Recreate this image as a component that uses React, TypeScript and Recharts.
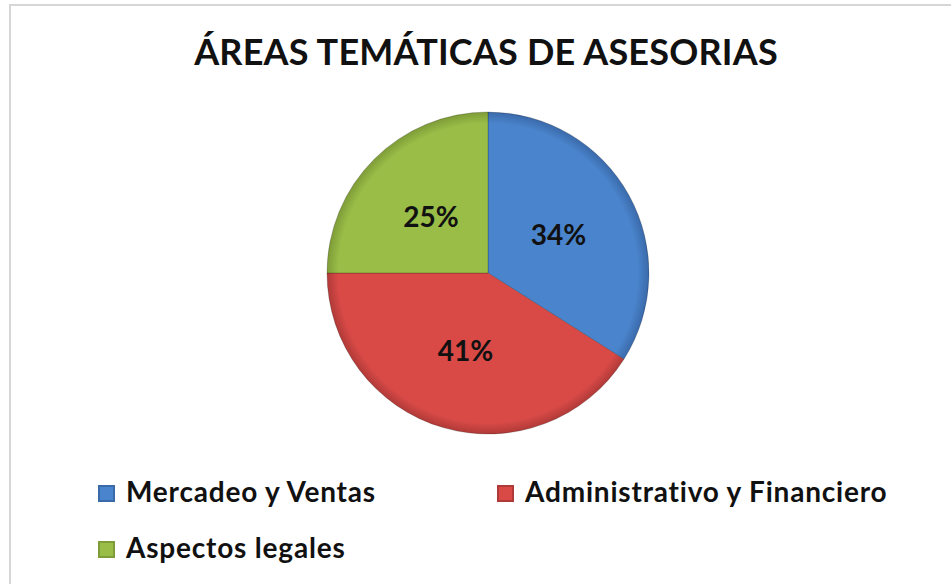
import { PieChart, Pie, Cell } from "recharts";

const categories = ["Mercadeo y Ventas", "Administrativo y Financiero", "Aspectos legales"];
const shares = [34, 41, 25];

const COLORS = ["#4A84CC", "#D94A47", "#99BD47"];
const RIM = ["#3A6AAA", "#B03A38", "#7E9C38"];

const data = categories.map((name, i) => ({ name, value: shares[i] }));

const FONT = "Lato, 'Open Sans', sans-serif";
const RADIAN = Math.PI / 180;
const CX = 488;
const CY = 273;
const R = 161;

const renderLabel = (props: any) => {
  const { cx, cy, midAngle, outerRadius, percent } = props;
  const r = outerRadius * 0.5;
  const x = cx + r * Math.cos(-midAngle * RADIAN);
  const y = cy + r * Math.sin(-midAngle * RADIAN);
  return (
    <text
      x={x}
      y={y}
      textAnchor="middle"
      dominantBaseline="central"
      fill="#111"
      fontFamily={FONT}
      fontWeight={700}
      fontSize={28}
    >
      {`${Math.round(percent * 100)}%`}
    </text>
  );
};

// legend slots (marker left edge, row top)
const legendSlots = [
  { left: 98, top: 474 },
  { left: 497, top: 474 },
  { left: 98, top: 530 },
];

function ChartLegend() {
  return (
    <>
      {categories.map((name, i) => (
        <div
          key={`legend-${i}`}
          style={{
            position: "absolute",
            left: legendSlots[i].left,
            top: legendSlots[i].top,
            display: "flex",
            alignItems: "center",
            fontFamily: FONT,
            fontWeight: 700,
            fontSize: 28,
            lineHeight: "34px",
            letterSpacing: 0.8,
            color: "#111",
            whiteSpace: "nowrap",
          }}
        >
          <span
            style={{
              display: "inline-block",
              width: 17,
              height: 17,
              marginRight: 11,
              marginTop: 5,
              background: COLORS[i],
              boxShadow: `inset 0 0 0 2px ${RIM[i]}`,
            }}
          />
          {name}
        </div>
      ))}
    </>
  );
}

export default function App() {
  return (
    <div
      style={{
        position: "absolute",
        left: 0,
        top: 0,
        width: 951,
        height: 584,
        background: "#fff",
        overflow: "hidden",
      }}
    >
      <div
        style={{
          position: "absolute",
          left: 9,
          top: 4,
          width: 960,
          height: 600,
          borderTop: "2px solid #d6d6d6",
          borderLeft: "2px solid #d6d6d6",
        }}
      />
      <div
        style={{
          position: "absolute",
          left: 0,
          top: 29,
          width: 972,
          textAlign: "center",
          fontFamily: FONT,
          fontWeight: 700,
          fontSize: 36,
          letterSpacing: 0.2,
          color: "#111",
        }}
      >
        ÁREAS TEMÁTICAS DE ASESORIAS
      </div>
      <div style={{ position: "absolute", left: 0, top: 0 }}>
        <PieChart width={951} height={584} margin={{ top: 0, right: 0, bottom: 0, left: 0 }}>
          <defs>
            {COLORS.map((c, i) => (
              <radialGradient
                key={`g-${i}`}
                id={`slice-${i}`}
                gradientUnits="userSpaceOnUse"
                cx={CX}
                cy={CY}
                r={R}
              >
                <stop offset="0%" stopColor={c} />
                <stop offset="93%" stopColor={c} />
                <stop offset="100%" stopColor={RIM[i]} />
              </radialGradient>
            ))}
          </defs>
          <Pie
            data={data}
            dataKey="value"
            nameKey="name"
            cx={CX}
            cy={CY}
            outerRadius={R}
            startAngle={90}
            endAngle={-270}
            labelLine={false}
            label={renderLabel}
            stroke="rgba(0,0,0,0.2)"
            strokeWidth={1}
            isAnimationActive={false}
          >
            {data.map((entry, index) => (
              <Cell key={`cell-${index}`} fill={`url(#slice-${index})`} />
            ))}
          </Pie>
        </PieChart>
      </div>
      <ChartLegend />
    </div>
  );
}
